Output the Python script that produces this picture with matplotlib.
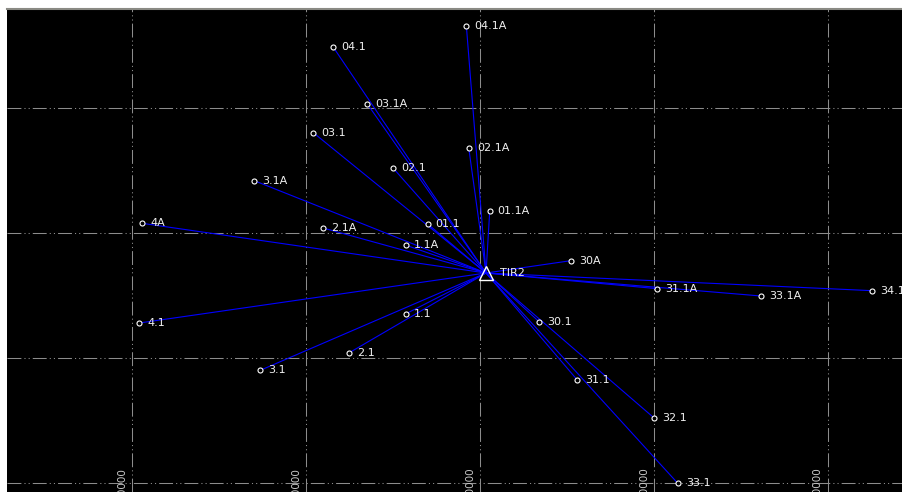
import matplotlib.pyplot as plt

plt.rcParams['lines.scale_dashes'] = False

# station coordinates (easting, northing)
names = ["04.1A", "04.1", "03.1A", "03.1", "02.1A", "02.1", "3.1A", "01.1A",
         "01.1", "4A", "2.1A", "1.1A", "30A", "31.1A", "33.1A", "34.1",
         "4.1", "1.1", "30.1", "2.1", "3.1", "31.1", "32.1", "33.1"]
east = [1999224, 1991576, 1993531, 1990426, 1999362, 1995009, 1987033, 2000569,
        1997004, 1980575, 1990983, 1995756, 2005227, 2010207, 2016153, 2022570,
        1980420, 1995756, 2003421, 1992496, 1987378, 2005589, 2009999, 2011380]
north = [2536525, 2534824, 2530296, 2528003, 2526781, 2525184, 2524169, 2521773,
         2520711, 2520767, 2520392, 2519010, 2517780, 2515544, 2514961, 2515384,
         2512804, 2513547, 2512884, 2510432, 2509026, 2508275, 2505240, 2500001]

base_name = "TIR2"
base_east = 2000356
base_north = 2516797

grid_x = [1980000, 1990000, 2000000, 2010000, 2020000]
grid_y = [2500000, 2510000, 2520000, 2530000]

fig = plt.figure(figsize=(9.02, 4.92), dpi=100, facecolor="white")
ax = fig.add_axes([7/902, 0, 895/902, 483/492], facecolor="black")

dash = (0, (10, 2.2, 0.8, 2.2, 0.8, 2.2))
for gx in grid_x:
    ax.axvline(gx, color="#8c8c8c", lw=0.75, ls=dash, zorder=1)
for gy in grid_y:
    ax.axhline(gy, color="#8c8c8c", lw=0.75, ls=dash, zorder=1)

# rays from the base station
for e, n in zip(east, north):
    ax.plot([base_east, e], [base_north, n], color="#0000ff", lw=0.8, zorder=2)

ax.plot(east, north, "o", ms=3.6, mfc="black", mec="white", mew=0.8, zorder=3)
for name, e, n in zip(names, east, north):
    ax.annotate(name, (e, n), xytext=(8, 0), textcoords="offset pixels",
                color="#f0f0f0", fontsize=8, va="center", ha="left", zorder=4)

ax.plot([base_east], [base_north], "^", ms=10, mfc="none", mec="white", mew=1, zorder=4)
ax.annotate(base_name, (base_east, base_north), xytext=(14, 0), textcoords="offset pixels",
            color="#f0f0f0", fontsize=8, va="center", ha="left", zorder=4)

for gx in grid_x:
    ax.annotate(str(gx), (gx, 25/483), xycoords=("data", "axes fraction"),
                xytext=(-5, 0), textcoords="offset pixels", rotation=90,
                color="#c8c8c8", fontsize=7.5, ha="right", va="top",
                annotation_clip=False)

ax.set_xlim(1972812, 2024273)
ax.set_ylim(2499305, 2537883)
ax.set_xticks([])
ax.set_yticks([])
for side in ["left", "right", "bottom"]:
    ax.spines[side].set_visible(False)
ax.spines["top"].set_color("#8a8a84")
ax.spines["top"].set_linewidth(1.5)

fig.savefig("out.png", dpi=100, facecolor="white")
